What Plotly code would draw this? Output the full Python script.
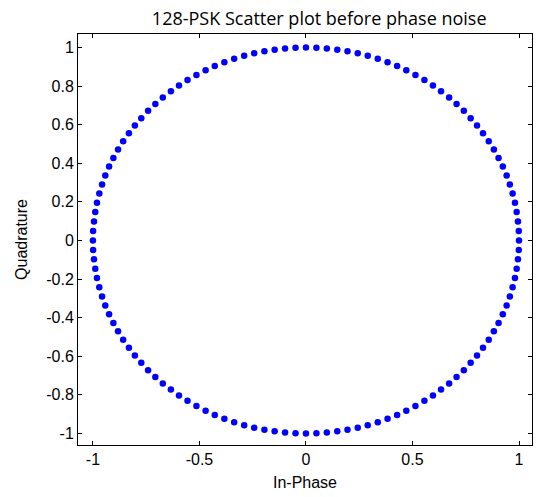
import plotly.graph_objects as go

in_phase = [
    1.000, 0.999, 0.995, 0.989, 0.981, 0.970, 0.957, 0.942, 0.924, 0.904, 0.882, 0.858, 0.831, 0.803, 0.773, 0.741,
    0.707, 0.672, 0.634, 0.596, 0.556, 0.514, 0.471, 0.428, 0.383, 0.337, 0.290, 0.243, 0.195, 0.147, 0.098, 0.049, 0.000,
    -0.049, -0.098, -0.147, -0.195, -0.243, -0.290, -0.337, -0.383, -0.428, -0.471, -0.514, -0.556, -0.596, -0.634, -0.672,
    -0.707, -0.741, -0.773, -0.803, -0.831, -0.858, -0.882, -0.904, -0.924, -0.942, -0.957, -0.970, -0.981, -0.989, -0.995, -0.999, -1.000,
    -0.999, -0.995, -0.989, -0.981, -0.970, -0.957, -0.942, -0.924, -0.904, -0.882, -0.858, -0.831, -0.803, -0.773, -0.741, -0.707,
    -0.672, -0.634, -0.596, -0.556, -0.514, -0.471, -0.428, -0.383, -0.337, -0.290, -0.243, -0.195, -0.147, -0.098, -0.049, 0.000,
    0.049, 0.098, 0.147, 0.195, 0.243, 0.290, 0.337, 0.383, 0.428, 0.471, 0.514, 0.556, 0.596, 0.634, 0.672, 0.707,
    0.741, 0.773, 0.803, 0.831, 0.858, 0.882, 0.904, 0.924, 0.942, 0.957, 0.970, 0.981, 0.989, 0.995, 0.999,
]

quadrature = [
    0.000, 0.049, 0.098, 0.147, 0.195, 0.243, 0.290, 0.337, 0.383, 0.428, 0.471, 0.514, 0.556, 0.596, 0.634, 0.672,
    0.707, 0.741, 0.773, 0.803, 0.831, 0.858, 0.882, 0.904, 0.924, 0.942, 0.957, 0.970, 0.981, 0.989, 0.995, 0.999, 1.000,
    0.999, 0.995, 0.989, 0.981, 0.970, 0.957, 0.942, 0.924, 0.904, 0.882, 0.858, 0.831, 0.803, 0.773, 0.741,
    0.707, 0.672, 0.634, 0.596, 0.556, 0.514, 0.471, 0.428, 0.383, 0.337, 0.290, 0.243, 0.195, 0.147, 0.098, 0.049, 0.000,
    -0.049, -0.098, -0.147, -0.195, -0.243, -0.290, -0.337, -0.383, -0.428, -0.471, -0.514, -0.556, -0.596, -0.634, -0.672, -0.707,
    -0.741, -0.773, -0.803, -0.831, -0.858, -0.882, -0.904, -0.924, -0.942, -0.957, -0.970, -0.981, -0.989, -0.995, -0.999, -1.000,
    -0.999, -0.995, -0.989, -0.981, -0.970, -0.957, -0.942, -0.924, -0.904, -0.882, -0.858, -0.831, -0.803, -0.773, -0.741, -0.707,
    -0.672, -0.634, -0.596, -0.556, -0.514, -0.471, -0.428, -0.383, -0.337, -0.290, -0.243, -0.195, -0.147, -0.098, -0.049,
]

x_ticks = [-1, -0.5, 0, 0.5, 1]
x_tick_labels = ["-1", "-0.5", "0", "0.5", "1"]
y_ticks = [-1, -0.8, -0.6, -0.4, -0.2, 0, 0.2, 0.4, 0.6, 0.8, 1]
y_tick_labels = ["-1", "-0.8", "-0.6", "-0.4", "-0.2", "0", "0.2", "0.4", "0.6", "0.8", "1"]

fig = go.Figure()
fig.add_trace(go.Scatter(
    x=in_phase, y=quadrature, mode="markers",
    marker=dict(color="#0000FF", size=6.5, line=dict(width=0)),
    showlegend=False,
))

label_font = dict(family="Liberation Sans, Arial, sans-serif", size=16, color="black")
axis_common = dict(
    showgrid=False, zeroline=False, showline=True, linecolor="black", linewidth=1,
    mirror="ticks", ticks="inside", ticklen=4, tickcolor="black",
    tickfont=label_font,
)

fig.update_layout(
    width=541, height=497,
    margin=dict(l=78, r=9, t=34, b=52),
    paper_bgcolor="white", plot_bgcolor="white",
    title=dict(text="128-PSK Scatter plot before phase noise", x=0.59, xanchor="center",
               y=0.963, yanchor="middle",
               font=dict(family="Open Sans, sans-serif", size=18, color="black")),
    xaxis=dict(range=[-1.07, 1.061], tickvals=x_ticks, ticktext=x_tick_labels,
               title=dict(text="In-Phase", standoff=9, font=label_font),
               **axis_common),
    yaxis=dict(range=[-1.06, 1.07], tickvals=y_ticks, ticktext=y_tick_labels,
               title=dict(text="Quadrature", standoff=14, font=label_font),
               **axis_common),
)

fig.write_html("out.html")
